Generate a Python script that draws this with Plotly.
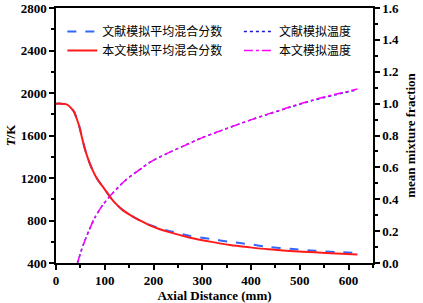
import plotly.graph_objects as go

# Mixture fraction (right axis)
mix_x = [0, 10, 20, 25, 30, 37, 42, 48, 53, 58, 65, 75, 85, 96, 105, 113, 125, 137, 150, 164, 180, 191, 210, 234, 275, 316, 357, 398, 435, 480, 531, 575, 618]
mix_lit = [1.0, 1.0, 0.997, 0.99, 0.975, 0.949, 0.91, 0.855, 0.79, 0.73, 0.66, 0.583, 0.525, 0.479, 0.44, 0.406, 0.365, 0.332, 0.305, 0.28, 0.256, 0.241, 0.22, 0.2, 0.17, 0.151, 0.133, 0.117, 0.101, 0.089, 0.077, 0.069, 0.063]
mix_this = [1.0, 1.0, 0.997, 0.99, 0.975, 0.949, 0.91, 0.855, 0.79, 0.73, 0.66, 0.583, 0.525, 0.479, 0.44, 0.406, 0.365, 0.332, 0.305, 0.28, 0.255, 0.238, 0.215, 0.192, 0.159, 0.134, 0.113, 0.098, 0.086, 0.076, 0.067, 0.06, 0.054]

# Temperature (left axis, K)
temp_x = [44, 55, 68, 80, 96, 116, 143, 178, 193, 225, 261, 300, 329, 398, 439, 480, 525, 570, 618]
temp_lit = [400, 560, 710, 830, 946, 1056, 1181, 1300, 1350, 1425, 1500, 1580, 1630, 1745, 1806, 1866, 1928, 1980, 2030]
temp_this = [400, 560, 710, 830, 946, 1056, 1181, 1300, 1350, 1425, 1500, 1580, 1630, 1745, 1808, 1870, 1932, 1985, 2037]

names = ["文献模拟平均混合分数", "本文模拟平均混合分数", "文献模拟温度", "本文模拟温度"]

fig = go.Figure()
fig.add_trace(go.Scatter(x=mix_x, y=mix_lit, name=names[0], yaxis="y2", mode="lines",
                         line=dict(color="#3366ff", width=2, dash="dash", shape="spline", smoothing=0.8),
                         legend="legend"))
fig.add_trace(go.Scatter(x=mix_x, y=mix_this, name=names[1], yaxis="y2", mode="lines",
                         line=dict(color="#ff1a1a", width=2, shape="spline", smoothing=0.8),
                         legend="legend"))
fig.add_trace(go.Scatter(x=temp_x, y=temp_lit, name=names[2], yaxis="y", mode="lines",
                         line=dict(color="#1a1acc", width=1.5, dash="dot", shape="spline", smoothing=0.8),
                         legend="legend2"))
fig.add_trace(go.Scatter(x=temp_x, y=temp_this, name=names[3], yaxis="y", mode="lines",
                         line=dict(color="#ff00ff", width=1.5, dash="dashdot", shape="spline", smoothing=0.8),
                         legend="legend2"))

tickfont = dict(family="Liberation Serif", size=13, color="black", weight="bold")
titlefont = dict(family="Liberation Serif", size=13, color="black", weight="bold")
legfont = dict(family="Noto Sans CJK SC", size=12, color="black")

axis_common = dict(showline=True, linecolor="black", linewidth=1.5, ticks="outside",
                   ticklen=5, tickwidth=1.5, tickcolor="black", showgrid=False,
                   zeroline=False, tickfont=tickfont, automargin=False)

fig.update_layout(
    width=423, height=303,
    margin=dict(l=56, r=50, t=8, b=40),
    paper_bgcolor="white", plot_bgcolor="white",
    xaxis=dict(range=[0, 650], dtick=100, tick0=0, mirror=True,
               minor=dict(dtick=50, ticklen=3, tickcolor="black", ticks="outside"),
               title=dict(text="Axial Distance (mm)", font=titlefont, standoff=0),
               **axis_common),
    yaxis=dict(range=[400, 2800], dtick=400, tick0=400,
               minor=dict(dtick=200, ticklen=3, tickcolor="black", ticks="outside"),
               title=dict(text="<i>T</i>/K", font=titlefont, standoff=2),
               **axis_common),
    yaxis2=dict(range=[0, 1.6], dtick=0.2, tick0=0, overlaying="y", side="right",
                tickformat=".1f",
                minor=dict(dtick=0.1, ticklen=3, tickcolor="black", ticks="outside"),
                title=dict(text="mean mixture fraction", font=titlefont, standoff=8),
                **axis_common),
    legend=dict(x=0.02, y=0.965, xanchor="left", yanchor="top", bgcolor="rgba(0,0,0,0)",
                font=legfont, tracegroupgap=0, itemwidth=30),
    legend2=dict(x=0.577, y=0.965, xanchor="left", yanchor="top", bgcolor="rgba(0,0,0,0)",
                 font=legfont, tracegroupgap=0, itemwidth=30),
    showlegend=True,
)

fig.write_html("out.html", config={"displayModeBar": False},
               post_script="document.body.style.margin='0';")
